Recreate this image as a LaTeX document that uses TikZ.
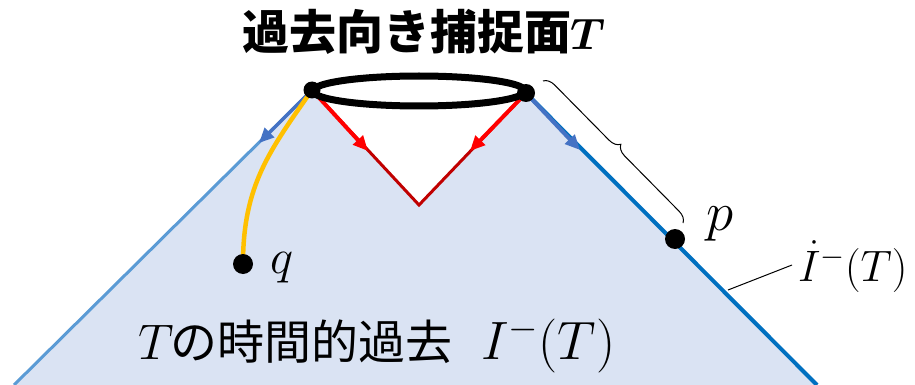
\RequirePackage{fix-cm}
\documentclass[tikz,border=0pt]{standalone}
\usepackage{fontspec}
\newfontfamily\cjk{Noto Sans CJK JP}
\usetikzlibrary{arrows.meta,decorations.pathreplacing}
\definecolor{fillblue}{HTML}{DAE3F3}
\definecolor{lblue}{HTML}{5B9BD5}
\definecolor{dblue}{HTML}{0070C0}
\definecolor{ablue}{HTML}{4472C4}
\definecolor{dred}{HTML}{C00000}
\definecolor{gold}{HTML}{FFC000}
\tikzset{
  dot/.style={circle,fill=black,inner sep=0pt,minimum size=#1},
  lbl/.style={inner sep=0pt,font=\fontsize{#1}{56}\selectfont},
  tip/.style={-{Triangle[length=15pt,width=13pt]}},
  rtip/.style={-{Triangle[length=15pt,width=13pt]}},
}
\begin{document}
\begin{tikzpicture}[x=1pt,y=-1pt]
\useasboundingbox (0,0) rectangle (915,385);
\coordinate (A) at (312,90);
\coordinate (B) at (526,93);
\coordinate (V) at (419,205);
\coordinate (BL) at (14,385);
\coordinate (BR) at (817,385);
\coordinate (LA) at (259,143);
\coordinate (RA) at (580,150);
\coordinate (LR) at (368,151);
\coordinate (RR) at (470,151);
\coordinate (Q) at (243,264);
\coordinate (P) at (675,239);
% fill
\fill[fillblue] (A) -- (BL) -- (BR) -- (B) -- (V) -- cycle;
% boundary lines
\draw[lblue,line width=3pt] (A) -- (BL);
\draw[dblue,line width=4pt] (B) -- (BR);
\draw[ablue,line width=3.5pt,tip] (A) -- (LA);
\draw[ablue,line width=4pt,tip] (B) -- (RA);
% red lines
\draw[dred,line width=3pt] (A) -- (V) -- (B);
\draw[red,line width=4pt,rtip] (A) -- (LR);
\draw[red,line width=4pt,rtip] (B) -- (RR);
% yellow curve
\draw[gold,line width=4.5pt] (A) .. controls (270,150) and (243,185) .. (Q);
% ellipse
\draw[black,line width=7pt] (419,91) ellipse [x radius=106, y radius=15];
% dots
\node[dot=17pt] (a) at (A) {};
\node[dot=18pt] (b) at (B) {};
\node[dot=20pt] (q) at (Q) {};
\node[dot=20pt] (p) at (P) {};
% labels
\node[lbl=49,anchor=base west] (ql) at (270,273) {$q$};
\node[lbl=55,anchor=base west] (pl) at (706,230) {$p$};
\node[inner sep=0pt,anchor=base west,font=\fontsize{44}{50}\selectfont] (il) at (798,281) {$\dot{I}^{-}(T)$};
\coordinate (L1) at (728,290);
\coordinate (L2) at (792,265);
\draw[black,line width=1pt] (L1) -- (L2);
% brace
\coordinate (Bs) at (543,81);
\coordinate (Be) at (683,223);
\draw[black,line width=1pt,decorate,decoration={brace,amplitude=11pt}] (Bs) -- (Be);
% title
\node[inner sep=0pt,anchor=base west] (title) at (242,50) {{\cjk\bfseries\fontsize{47}{54}\selectfont 過去向き捕捉面}\kern-1pt{\fontsize{44}{50}\selectfont\boldmath$T$}};
% bottom text
\node[inner sep=0pt,anchor=base west] (past) at (138,359) {{\fontsize{50}{60}\selectfont$T$}\kern-3pt{\cjk\fontsize{47}{54}\selectfont の時間的過去}};
\node[inner sep=0pt,anchor=base west,font=\fontsize{54}{60}\selectfont] (im) at (481,359) {$I^{-}(T)$};
\end{tikzpicture}
\end{document}
